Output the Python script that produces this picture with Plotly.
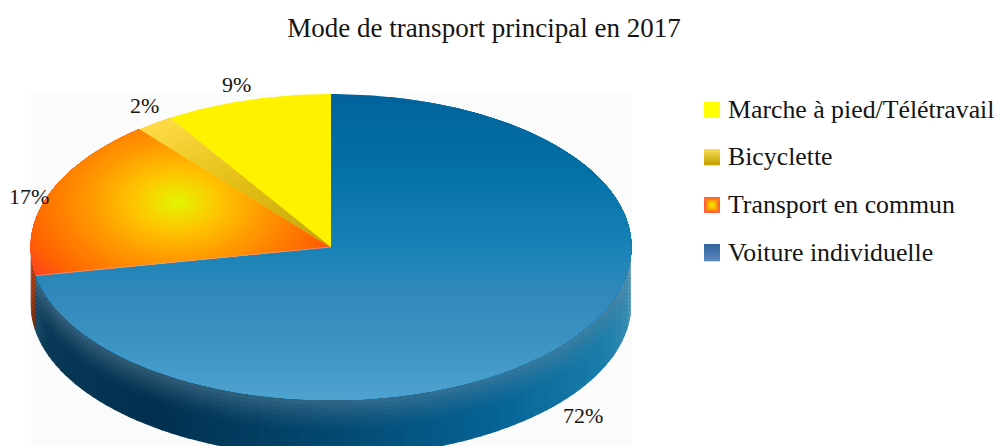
import math
from collections import defaultdict
import plotly.graph_objects as go

# ---------- data ----------
categories = ["Voiture individuelle", "Transport en commun", "Bicyclette", "Marche à pied/Télétravail"]
shares = [72, 17, 2, 9]
share_labels = ["72%", "17%", "2%", "9%"]
legend_order = ["Marche à pied/Télétravail", "Bicyclette", "Transport en commun", "Voiture individuelle"]
title_text = "Mode de transport principal en 2017"

# ---------- geometry of the tilted pie (pixels of the 997x446 page) ----------
W, H = 997, 446
CX, CY, RX, RY, DEPTH = 331.0, 247.0, 300.5, 153.0, 56.0
FONT = "Liberation Serif"
INK = "#141414"


def nx(px):
    return (px - CX) / RX


def ny(py):
    return (CY - py) / RY


def lerp(stops, t):
    if t <= stops[0][0]:
        return stops[0][1]
    for (a, ca), (b, cb) in zip(stops, stops[1:]):
        if t <= b:
            f = (t - a) / (b - a)
            return tuple(ca[i] + (cb[i] - ca[i]) * f for i in range(3))
    return stops[-1][1]


def rgb(c):
    return "rgb(%d,%d,%d)" % tuple(round(max(0, min(255, v))) for v in c)


def pt(deg):
    r = math.radians(deg)
    return (math.sin(r), math.cos(r))


def wedge(a0, a1):
    n = max(4, int((a1 - a0) / 1.0))
    return [(0.0, 0.0)] + [pt(a0 + (a1 - a0) * i / n) for i in range(n + 1)]


def clip(poly, a, b, c):
    """Keep the part of poly where a*x + b*y + c >= 0."""
    out = []
    for i, p in enumerate(poly):
        q = poly[(i + 1) % len(poly)]
        dp, dq = a * p[0] + b * p[1] + c, a * q[0] + b * q[1] + c
        if dp >= 0:
            out.append(p)
        if (dp >= 0) != (dq >= 0):
            f = dp / (dp - dq)
            out.append((p[0] + (q[0] - p[0]) * f, p[1] + (q[1] - p[1]) * f))
    return out


def clip_convex(poly, hull):
    mx = sum(p[0] for p in hull) / len(hull)
    my = sum(p[1] for p in hull) / len(hull)
    for i, p in enumerate(hull):
        q = hull[(i + 1) % len(hull)]
        a, b = -(q[1] - p[1]), q[0] - p[0]
        c = -(a * p[0] + b * p[1])
        if a * mx + b * my + c < 0:
            a, b, c = -a, -b, -c
        poly = clip(poly, a, b, c)
        if not poly:
            break
    return poly


fig = go.Figure()


def add_poly(poly, color):
    fig.add_trace(go.Scatter(
        x=[p[0] for p in poly] + [poly[0][0]], y=[p[1] for p in poly] + [poly[0][1]],
        mode="lines", fill="toself", fillcolor=color, line=dict(width=0),
        hoverinfo="skip", showlegend=False))


# angles of every slice, clockwise from twelve o'clock
angles = {}
acc = 0.0
for name, s in zip(categories, shares):
    angles[name] = (acc * 3.6, (acc + s) * 3.6)
    acc += s

# ---------- side wall ----------
WALL_BLUE = [(0.0, (22, 72, 100)), (0.03, (8, 56, 86)), (0.2, (2, 48, 78)), (0.5, (3, 72, 112)),
             (0.78, (6, 100, 150)), (0.95, (25, 125, 170)), (1.0, (50, 135, 175))]
WALL_RED = [(0.0, (170, 50, 0)), (1.0, (110, 30, 0))]
DZ = DEPTH / RY
vcar = angles[categories[0]]
N_DEPTH = 14
# painted from the bottom of the wall upward so each band hides the joint below it
for k in range(N_DEPTH - 1, -1, -1):
    d0, d1 = k / N_DEPTH, (k + 1.2) / N_DEPTH
    dm = (k + 0.5) / N_DEPTH
    buckets = defaultdict(list)
    for i in range(90):
        a0, a1 = 90 + 2 * i, 92.3 + 2 * i
        am = a0 + 1
        t = (pt(am)[0] + 1) / 2
        if am < vcar[1]:
            base = lerp(WALL_BLUE, t)
            f = 0.5 * max(0, 1 - dm / 0.55) ** 1.3
            col = tuple(base[j] + ((95, 135, 160)[j] - base[j]) * f for j in range(3))
        else:
            col = lerp(WALL_RED, dm)
        p0, p1 = pt(a0), pt(a1)
        buckets[rgb(col)].append([(p0[0], p0[1] - DZ * d0), (p1[0], p1[1] - DZ * d0),
                                  (p1[0], p1[1] - DZ * d1), (p0[0], p0[1] - DZ * d1)])
    for key, quads in buckets.items():
        for q in quads:
            add_poly(q, key)

# ---------- top face: car slice, bands going down the page ----------
CAR_STOPS = [(94, (2, 98, 155)), (170, (3, 112, 166)), (247, (24, 130, 182)), (300, (52, 138, 188)),
             (350, (62, 150, 197)), (400, (78, 162, 207))]
car = wedge(*vcar)
add_poly(car, rgb(CAR_STOPS[0][1]))
for py in range(97, 400, 5):
    yy = ny(py)
    band = clip(car, 0, -1, yy)
    if band:
        add_poly(band, rgb(lerp(CAR_STOPS, py + 2.5)))

# ---------- top face: public transport slice, radial glow ----------
ORANGE_STOPS = [(0, (226, 245, 0)), (18, (240, 225, 0)), (45, (255, 195, 0)), (85, (255, 155, 0)),
                (120, (255, 125, 0)), (150, (255, 100, 0)), (185, (255, 62, 42))]
GLOW_X, GLOW_Y = 177.0, 202.0
tr = wedge(*angles[categories[1]])
add_poly(tr, rgb(ORANGE_STOPS[-1][1]))
for r in range(186, 1, -4):
    ring = [(nx(GLOW_X + r * math.cos(2 * math.pi * i / 72)), ny(GLOW_Y + r / 1.5 * math.sin(2 * math.pi * i / 72)))
            for i in range(72)]
    part = clip_convex(ring, tr)
    if len(part) > 2:
        add_poly(part, rgb(lerp(ORANGE_STOPS, r - 2)))

# ---------- top face: bicycle slice, darkening to the centre ----------
BIKE_STOPS = [(0.0, (198, 165, 15)), (0.5, (226, 190, 20)), (1.0, (254, 218, 70))]
bi = wedge(*angles[categories[2]])
add_poly(bi, rgb(BIKE_STOPS[-1][1]))
for i in range(20, 0, -1):
    ring = [(math.cos(2 * math.pi * k / 60) * i / 20, math.sin(2 * math.pi * k / 60) * i / 20) for k in range(60)]
    part = clip_convex(ring, bi)
    if len(part) > 2:
        add_poly(part, rgb(lerp(BIKE_STOPS, (i - 0.5) / 20)))

# ---------- top face: walking slice ----------
add_poly(wedge(*angles[categories[3]]), "#fff200")

# thin pale seam between orange and blue
seam = pt(vcar[1])
fig.add_trace(go.Scatter(x=[0, seam[0]], y=[0, seam[1]], mode="lines",
                         line=dict(color="rgba(215,170,170,0.65)", width=1),
                         hoverinfo="skip", showlegend=False))

# ---------- page furniture ----------
shapes = [dict(type="rect", xref="x", yref="y", layer="below", x0=nx(31), x1=nx(632), y0=ny(94), y1=ny(446),
               fillcolor="#fbfbfb", line=dict(width=0))]


def swatch_band(x0, x1, y0, y1, color):
    shapes.append(dict(type="rect", xref="x", yref="y", x0=nx(x0), x1=nx(x1), y0=ny(y0), y1=ny(y1),
                       fillcolor=color, line=dict(width=0)))


SW_X0, SW_X1 = 704, 720
ROW_Y = [110, 157, 205, 252.5]
swatch_band(SW_X0, SW_X1, ROW_Y[0] - 8, ROW_Y[0] + 8, "#ffff00")
for i in range(16):
    swatch_band(SW_X0, SW_X1, ROW_Y[1] - 8 + i, ROW_Y[1] - 7 + i + 0.3,
                rgb(lerp([(0, (248, 222, 80)), (1, (195, 160, 0))], i / 15)))
for i in range(8, 0, -1):
    f = i / 8
    swatch_band(712 - i, 712 + i, ROW_Y[2] - i, ROW_Y[2] + i,
                rgb(lerp([(0, (225, 240, 0)), (0.45, (255, 190, 0)), (0.8, (255, 120, 20)), (1, (255, 95, 70))], f)))
for i in range(17):
    swatch_band(SW_X0, SW_X1, ROW_Y[3] - 8.5 + i, ROW_Y[3] - 7.5 + i + 0.3,
                rgb(lerp([(0, (52, 98, 158)), (1, (88, 136, 190))], i / 16)))

annotations = []
for name, yp in zip(legend_order, ROW_Y):
    annotations.append(dict(x=nx(726), y=ny(yp - 0.5), xref="x", yref="y", text=name, showarrow=False,
                            xanchor="left", yanchor="middle", font=dict(family=FONT, size=25.8, color=INK)))
LABEL_PX = {"72%": (583, 415), "17%": (29, 196), "2%": (144, 105), "9%": (236, 84)}
for lab in share_labels:
    lx, ly = LABEL_PX[lab]
    annotations.append(dict(x=nx(lx), y=ny(ly), xref="x", yref="y", text=lab, showarrow=False,
                            xanchor="center", yanchor="middle", font=dict(family=FONT, size=22, color=INK)))

fig.update_layout(
    width=W, height=H, autosize=False, margin=dict(l=0, r=0, t=0, b=0),
    paper_bgcolor="white", plot_bgcolor="white", showlegend=False, hovermode=False,
    title=dict(text=title_text, x=484 / W, y=1 - 28 / H, xanchor="center", yanchor="middle",
               xref="paper", yref="paper", font=dict(family=FONT, size=27, color=INK)),
    xaxis=dict(range=[nx(0), nx(W)], visible=False, fixedrange=True),
    yaxis=dict(range=[ny(H), ny(0)], visible=False, fixedrange=True),
    shapes=shapes, annotations=annotations,
)
fig.write_html("out.html", config=dict(displayModeBar=False),
               post_script="document.body.style.margin='0';")
